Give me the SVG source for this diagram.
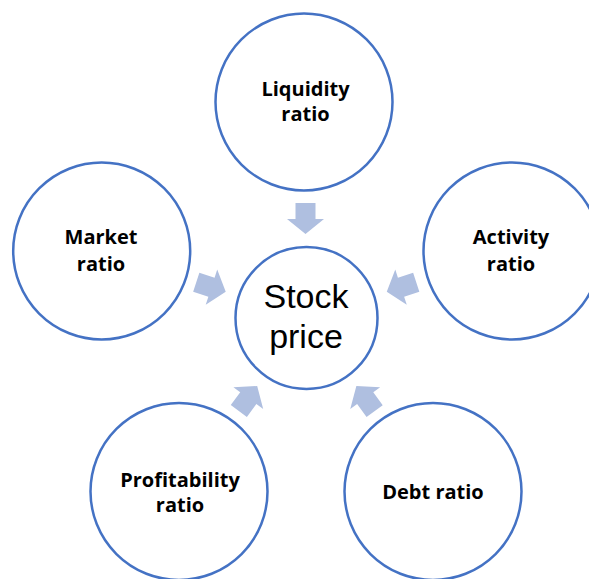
<svg xmlns="http://www.w3.org/2000/svg" width="589" height="579" viewBox="0 0 589 579">
  <defs>
    <!-- block arrow pointing along +x, centred on the origin -->
    <polygon id="blockArrow" points="-15.5,-10 0.5,-10 0.5,-18.5 15.5,0 0.5,18.5 0.5,10 -15.5,10"/>
  </defs>
  <style>
    .ring { fill: #ffffff; stroke: #4472C4; stroke-width: 2.5; }
    .label { font-family: "Open Sans", "Liberation Sans", Arial, sans-serif; font-weight: bold; font-size: 20px; fill: #000000; text-anchor: middle; }
    .hub { font-family: "Liberation Sans", Arial, sans-serif; font-size: 34px; fill: #000000; text-anchor: middle; }
    .flow { fill: #AFBFE0; }
  </style>
  <rect width="589" height="579" fill="#ffffff"/>

  <g id="connectors">
    <use href="#blockArrow" class="flow" transform="translate(305.5,218.5) rotate(90)"/>
    <use href="#blockArrow" class="flow" transform="translate(211,287) rotate(18.1)"/>
    <use href="#blockArrow" class="flow" transform="translate(401.5,287) rotate(161.9)"/>
    <use href="#blockArrow" class="flow" transform="translate(248,398.5) rotate(-53.7)"/>
    <use href="#blockArrow" class="flow" transform="translate(365.5,398.5) rotate(-126.1)"/>
  </g>

  <g id="stock-price">
    <circle class="ring" cx="306.5" cy="318" r="71"/>
    <text class="hub" x="306" y="308">Stock</text>
    <text class="hub" x="306" y="348">price</text>
  </g>

  <g id="liquidity-ratio">
    <circle class="ring" cx="304" cy="102" r="88.5"/>
    <text class="label" x="305.5" y="96">Liquidity</text>
    <text class="label" x="305.5" y="121">ratio</text>
  </g>

  <g id="market-ratio">
    <circle class="ring" cx="101.7" cy="251" r="88.5"/>
    <text class="label" x="101" y="244">Market</text>
    <text class="label" x="101" y="271">ratio</text>
  </g>

  <g id="activity-ratio">
    <circle class="ring" cx="512" cy="251" r="88.5"/>
    <text class="label" x="511" y="244">Activity</text>
    <text class="label" x="511" y="271">ratio</text>
  </g>

  <g id="profitability-ratio">
    <circle class="ring" cx="179" cy="491.5" r="88.5"/>
    <text class="label" x="180" y="486.5">Profitability</text>
    <text class="label" x="180" y="512">ratio</text>
  </g>

  <g id="debt-ratio">
    <circle class="ring" cx="433" cy="491.5" r="88.5"/>
    <text class="label" x="433" y="499">Debt ratio</text>
  </g>
</svg>
